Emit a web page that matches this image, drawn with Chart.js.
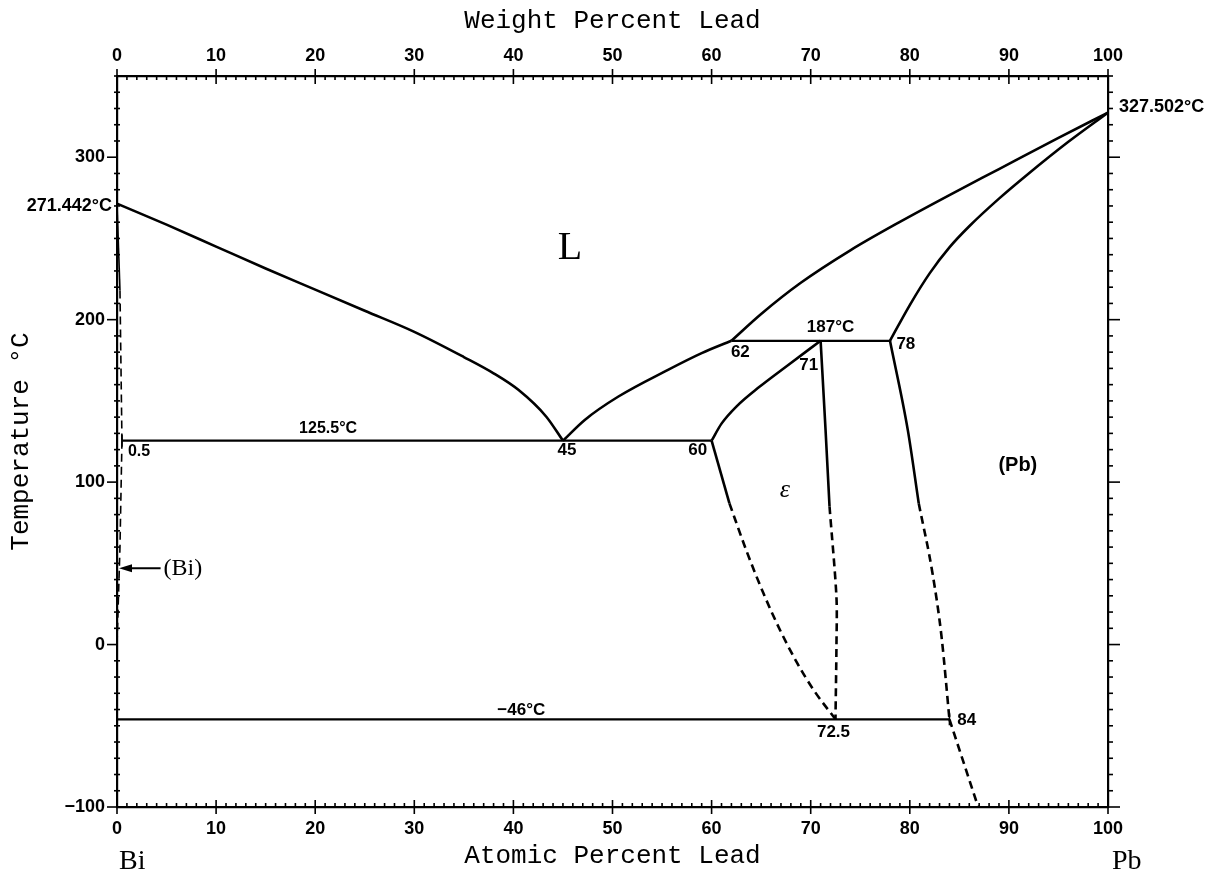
<!DOCTYPE html>
<html><head><meta charset="utf-8">
<script src="https://cdn.jsdelivr.net/npm/chart.js@4/dist/chart.umd.min.js"></script>
<style>html,body{margin:0;padding:0;background:#fff;}</style>
</head><body>
<canvas id="c" width="1221" height="872"></canvas>
<script>
// ---- data (atomic % Pb, temperature °C) ----
const biLiquidus = [[0,271.442],[5,258.5],[10,245],[15,231.5],[20,218.5],[25,205.5],[30,192.5],[35,177],[38,167],[40.5,156.8],[43.3,140.4],[45,125.5]];
const liquidusEps = [[45,125.5],[47.2,138.3],[50.6,152.7],[55.6,169.1],[59.0,179.4],[62,187]];
const liquidusPb = [[62,187],[65,203.5],[69,222.7],[74,242.7],[79,260.2],[84,276.7],[89,292.7],[95,311.9],[100,327.502]];
const solidusPb = [[78,187],[80,209],[82,228.5],[84,244.5],[86,257.5],[89,274.5],[92,290],[96,309.5],[100,327.502]];
const epsUpper = [[60,125.5],[61,136],[62.5,146.5],[64.8,158.5],[67.6,171.5],[71,187]];
const epsLeftSolid = [[60,125.5],[61.8,86.9]];
const epsLeftDashed = [[61.8,86.9],[63.5,58],[65.2,32],[66.9,9],[68.6,-11],[70.3,-28],[72.5,-46]];
const epsRightSolid = [[71,187],[71.5,132],[71.9,85]];
const epsRightDashed = [[71.9,85],[72.6,29],[72.6,0],[72.5,-46]];
const pbSolvusSolid = [[78,187],[79.8,132],[80.9,87]];
const pbSolvusDashed = [[80.9,87],[82.3,43.6],[83.2,5],[84,-46]];
const pbSolvusLow = [[84,-46],[86.9,-100]];
const biSolidusSolid = [[0,271.442],[0.3,218]];
const biSolidusDashed = [[0.3,218],[0.5,125.5]];
const biSolvusDashed = [[0.5,125.5],[0.3,60],[0,0]];
const eutectic = [[0.5,125.5],[60,125.5]];
const peritectic = [[62,187],[78,187]];
const eutectoid = [[0,-46],[84,-46]];

const xMin = 0, xMax = 100, xMajor = 10, xMinor = 1;
const yMin = -100, yMax = 350, yMajor = 100, yMinor = 10;

const annotations = [
  {t:'271.442°C', x:-0.5, y:270, f:'bold 18px "Liberation Sans"', a:'right'},
  {t:'327.502°C', x:101.1, y:331, f:'bold 18px "Liberation Sans"', a:'left'},
  {t:'L', x:45.7, y:244, f:'40px "Liberation Serif"', a:'center'},
  {t:'125.5°C', x:21.3, y:132.7, f:'bold 16px "Liberation Sans"', a:'center'},
  {t:'0.5', x:1.1, y:118.5, f:'bold 16px "Liberation Sans"', a:'left'},
  {t:'45', x:45.4, y:119.8, f:'bold 17px "Liberation Sans"', a:'center'},
  {t:'60', x:58.6, y:119.8, f:'bold 17px "Liberation Sans"', a:'center'},
  {t:'62', x:62.9, y:180.2, f:'bold 17px "Liberation Sans"', a:'center'},
  {t:'71', x:69.8, y:172.2, f:'bold 17px "Liberation Sans"', a:'center'},
  {t:'187°C', x:72.0, y:195, f:'bold 17px "Liberation Sans"', a:'center'},
  {t:'78', x:79.6, y:184.6, f:'bold 17px "Liberation Sans"', a:'center'},
  {t:'ε', x:67.4, y:95, f:'italic 26px "Liberation Serif"', a:'center'},
  {t:'(Pb)', x:90.9, y:110, f:'bold 20px "Liberation Sans"', a:'center'},
  {t:'−46°C', x:40.8, y:-40.7, f:'bold 17px "Liberation Sans"', a:'center'},
  {t:'72.5', x:72.3, y:-54.3, f:'bold 17px "Liberation Sans"', a:'center'},
  {t:'84', x:84.8, y:-46.9, f:'bold 17px "Liberation Sans"', a:'left'},
  {t:'(Bi)', x:4.7, y:47, f:'24px "Liberation Serif"', a:'left'},
  {t:'Bi', x:0.2, y:-133.5, f:'28px "Liberation Serif"', a:'left'},
  {t:'Pb', x:100.4, y:-133.5, f:'28px "Liberation Serif"', a:'left'}
];
const arrowBi = {from:[4.4,47], to:[0.2,47]};

const pts = arr => arr.map(p => ({x:p[0], y:p[1]}));
function ds(arr, dashed, mode, width){
  const d = {data:pts(arr), showLine:true, pointRadius:0, borderColor:'#000', borderWidth:width || 2.6,
          borderDash: dashed ? [8,5] : [], fill:false, tension:0};
  if (mode === 'mono') { d.cubicInterpolationMode = 'monotone'; d.tension = 0.4; }
  else if (typeof mode === 'number') d.tension = mode;
  return d;
}
const datasets = [
  ds(biLiquidus,false,'mono'), ds(liquidusEps,false,'mono'), ds(liquidusPb,false,'mono'), ds(solidusPb,false,'mono'),
  ds(epsUpper,false,'mono'), ds(epsLeftSolid,false,0), ds(epsLeftDashed,true,'mono'),
  ds(epsRightSolid,false,'mono'), ds(epsRightDashed,true,0.3),
  ds(pbSolvusSolid,false,'mono'), ds(pbSolvusDashed,true,'mono'), ds(pbSolvusLow,true,0),
  ds(biSolidusSolid,false,0,1.6), ds(biSolidusDashed,true,0,1.6), ds(biSolvusDashed,true,0,1.6),
  ds(eutectic,false,0,2.2), ds(peritectic,false,0,2.2), ds(eutectoid,false,0,2.2)
];

const tickPlugin = {
  id:'axisTicks',
  afterDraw(chart){
    const ctx = chart.ctx, a = chart.chartArea, sx = chart.scales.x, sy = chart.scales.y;
    const line = (x1,y1,x2,y2) => { ctx.beginPath(); ctx.moveTo(x1,y1); ctx.lineTo(x2,y2); ctx.stroke(); };
    ctx.save(); ctx.strokeStyle = '#000'; ctx.lineWidth = 1.6;
    for (let v = xMin; v <= xMax; v += xMinor){
      const px = sx.getPixelForValue(v), major = v % xMajor === 0;
      line(px, a.bottom + (major?7:0), px, a.bottom - (major?7:4));
      line(px, a.top - (major?7:0), px, a.top + (major?8:4));
    }
    for (let v = yMin; v <= yMax; v += yMinor){
      const py = sy.getPixelForValue(v), major = v % yMajor === 0;
      line(a.left - (major?10:3), py, a.left + (major?0:3), py);
      line(a.right, py, a.right + (major?12:5), py);
    }
    const cap = (x,y) => { const px = sx.getPixelForValue(x), py = sy.getPixelForValue(y); line(px, py-6, px, py+6); };
    cap(eutectic[0][0], eutectic[0][1]);
    cap(eutectoid[1][0], eutectoid[1][1]);
    const ax1 = sx.getPixelForValue(arrowBi.from[0]), ay = sy.getPixelForValue(arrowBi.from[1]);
    const ax2 = sx.getPixelForValue(arrowBi.to[0]);
    ctx.lineWidth = 2; line(ax1, ay, ax2 + 8, ay);
    ctx.fillStyle = '#000'; ctx.beginPath(); ctx.moveTo(ax2, ay); ctx.lineTo(ax2+13, ay-4); ctx.lineTo(ax2+13, ay+4); ctx.closePath(); ctx.fill();
    ctx.textBaseline = 'middle';
    annotations.forEach(l => {
      ctx.font = l.f; ctx.textAlign = l.a; ctx.fillText(l.t, sx.getPixelForValue(l.x), sy.getPixelForValue(l.y));
    });
    ctx.restore();
  }
};

const tickFont = {family:'"Liberation Sans", Arial, sans-serif', size:18, weight:'bold'};
const titleFont = {family:'"Liberation Mono", "Courier New", monospace', size:26};
const border = {display:true, color:'#000', width:2.2};
const gridOpts = {display:true, drawOnChartArea:false, drawTicks:false};

new Chart(document.getElementById('c'), {
  type:'scatter',
  data:{datasets},
  plugins:[tickPlugin],
  options:{
    responsive:false, animation:false, devicePixelRatio:1,
    layout:{padding:0},
    plugins:{legend:{display:false}, tooltip:{enabled:false}},
    scales:{
      x:{type:'linear', position:'bottom', min:xMin, max:xMax,
         ticks:{stepSize:xMajor, color:'#000', font:tickFont, padding:11, maxRotation:0},
         grid:gridOpts, border,
         title:{display:true, text:'Atomic Percent Lead', color:'#000', font:titleFont, padding:{top:0,bottom:0}},
         afterFit(s){ s.height = 65; }},
      x2:{type:'linear', position:'top', min:xMin, max:xMax,
         ticks:{stepSize:xMajor, color:'#000', font:tickFont, padding:9, maxRotation:0},
         grid:gridOpts, border,
         title:{display:true, text:'Weight Percent Lead', color:'#000', font:titleFont, padding:{top:6,bottom:0}},
         afterFit(s){ s.height = 76; }},
      y:{type:'linear', position:'left', min:yMin, max:yMax,
         ticks:{stepSize:yMajor, color:'#000', font:tickFont, padding:12,
                callback:v => v < 0 ? '−' + Math.abs(v) : String(v)},
         afterBuildTicks(s){ s.ticks = s.ticks.filter(t => t.value % yMajor === 0); },
         grid:gridOpts, border,
         title:{display:true, text:'Temperature °C', color:'#000', font:titleFont, padding:{top:6,bottom:0}},
         afterFit(s){ s.width = 117; }},
      y2:{type:'linear', position:'right', min:yMin, max:yMax,
         ticks:{display:false}, grid:gridOpts, border,
         afterFit(s){ s.width = 113; }}
    }
  }
});
</script>
</body></html>
